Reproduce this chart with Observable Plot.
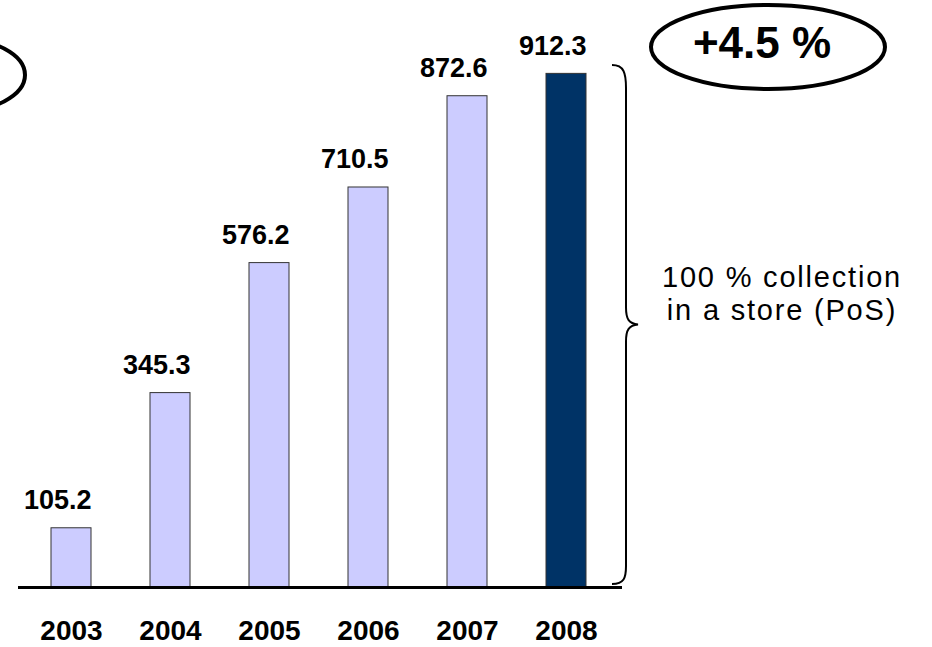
<!DOCTYPE html>
<html>
<head>
<meta charset="utf-8">
<script src="https://cdn.jsdelivr.net/npm/d3@7"></script>
<script src="https://cdn.jsdelivr.net/npm/@observablehq/plot@0.6"></script>
<style>
  html, body { margin: 0; padding: 0; background: white; }
  #chart svg { display: block; }
</style>
</head>
<body>
<div id="chart"></div>
<script>
// ---- data ----
const years = ["2003", "2004", "2005", "2006", "2007", "2008"];
const values = [105.2, 345.3, 576.2, 710.5, 872.6, 912.3];
const highlightYear = "2008";
const growthLabel = "+4.5 %";
const braceLines = ["100 % collection", "in a store (PoS)"];

const data = years.map((year, i) => ({year, value: values[i]}));
const font = "'Liberation Sans', Arial, Helvetica, sans-serif";

const chart = Plot.plot({
  width: 932,
  height: 647,
  marginLeft: 10,
  marginRight: 305,
  marginTop: 24,
  marginBottom: 60,
  x: {domain: years, paddingInner: 0.6, paddingOuter: 0.4, axis: null},
  y: {domain: [0, 1000], axis: null},
  color: {type: "identity"},
  style: {fontFamily: font, background: "white", color: "black"},
  marks: [
    Plot.barY(data, {
      x: "year", y: "value",
      fill: d => d.year === highlightYear ? "#003366" : "#CCCCFF",
      stroke: "#333333", strokeWidth: 1
    }),
    Plot.ruleY([0], {stroke: "black", strokeWidth: 3, insetLeft: 8, insetRight: 5}),
    Plot.text(data, {
      x: "year", y: "value", text: d => d.value.toFixed(1),
      dx: 20, dy: -28, textAnchor: "end", fontSize: 27, fontWeight: "bold",
      lineAnchor: "middle", fill: "black"
    }),
    Plot.text(data, {
      x: "year", y: () => 0, text: "year",
      dy: 44, fontSize: 28, fontWeight: "bold", lineAnchor: "middle", fill: "black"
    })
  ]
});

document.getElementById("chart").appendChild(chart);

// ---- annotations ----
const svg = d3.select(chart);
const y = chart.scale("y");
const yTop = y.apply(927), yBase = y.apply(0) - 3, yMid = (yTop + yBase) / 2;

// curly brace
const bx0 = 612, bx1 = 626, tip = 638;
svg.append("path")
  .attr("fill", "none").attr("stroke", "black").attr("stroke-width", 2)
  .attr("d", `M ${bx0} ${yTop} C ${bx0 + 12} ${yTop}, ${bx1} ${yTop + 8}, ${bx1} ${yTop + 23}
              L ${bx1} ${yMid - 17} C ${bx1} ${yMid - 5}, ${bx1 + 3} ${yMid - 1}, ${tip} ${yMid}
              C ${bx1 + 3} ${yMid + 1}, ${bx1} ${yMid + 5}, ${bx1} ${yMid + 17}
              L ${bx1} ${yBase - 18} C ${bx1} ${yBase - 6}, ${bx0 + 12} ${yBase}, ${bx0} ${yBase}`);

braceLines.forEach((line, i) => {
  svg.append("text")
    .attr("font-family", font).attr("font-size", 29).attr("letter-spacing", 1.8)
    .attr("text-anchor", "middle").attr("fill", "black")
    .attr("dominant-baseline", "central")
    .attr("x", 782).attr("y", yMid - 48 + i * 33).text(line);
});

// growth ellipse
svg.append("ellipse").attr("cx", 768).attr("cy", 47).attr("rx", 117).attr("ry", 42)
  .attr("fill", "none").attr("stroke", "black").attr("stroke-width", 4);
svg.append("text").attr("x", 762).attr("y", 42).attr("dominant-baseline", "central")
  .attr("text-anchor", "middle").attr("font-family", font).attr("font-size", 44)
  .attr("font-weight", "bold").attr("fill", "black").text(growthLabel);

// partially visible ellipse at left edge
svg.append("ellipse").attr("cx", -45).attr("cy", 75).attr("rx", 70).attr("ry", 37)
  .attr("fill", "none").attr("stroke", "black").attr("stroke-width", 4);
</script>
</body>
</html>
